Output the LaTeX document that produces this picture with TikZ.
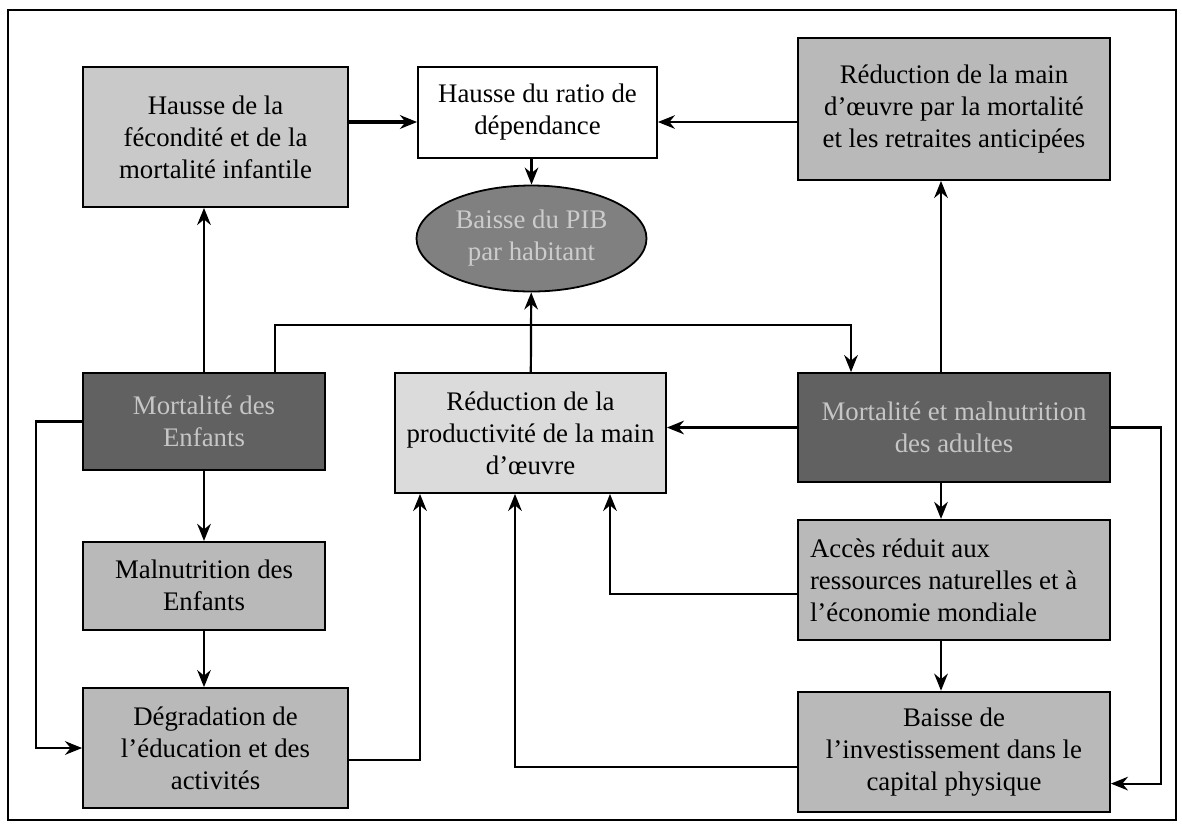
\documentclass[tikz,border=0pt]{standalone}
\usepackage{fontspec}
\setmainfont{Liberation Serif}
\usetikzlibrary{arrows.meta,positioning,shapes.geometric}

\begin{document}
\begin{tikzpicture}[
  x=0.5pt, y=-0.5pt,
  box/.style={draw, line width=0.9pt, align=center, inner sep=2pt, font=\fontsize{13.4}{16}\selectfont},
  wide/.style={box, minimum width=156pt, minimum height=60pt},
  dark/.style={box, fill=black!62, text=gray!45},
  link/.style={->, line width=1.1pt},
  >={Stealth[length=3mm, width=2.4mm]}
]
\useasboundingbox (0,0) rectangle (1182,832);
\draw[line width=1pt] (8,10) rectangle (1176,820);

\node[box, fill=gray!42, minimum width=132.5pt, minimum height=70pt] (fec) at (215.5,137) {Hausse de la\\fécondité et de la\\mortalité infantile};
\node[box, fill=white, minimum width=119.5pt, minimum height=45.5pt] (ratio) at (537.5,112.5) {Hausse du ratio de\\dépendance};
\node[wide, fill=gray!55, minimum height=71pt] (reduc) at (954,109) {Réduction de la main\\d’œuvre par la mortalité\\et les retraites anticipées};
\node[ellipse, draw, line width=0.9pt, fill=black!50, text=gray!40, inner sep=0pt, minimum width=115pt, minimum height=53pt, align=center, font=\fontsize{13.4}{16}\selectfont] (pib) at (531.5,238.5) {Baisse du PIB\\par habitant};

\node[dark, minimum width=121pt, minimum height=48.5pt] (enfm) at (204,421.5) {Mortalité des\\Enfants};
\node[box, fill=gray!28, minimum width=135.5pt, minimum height=60pt] (prod) at (530.5,433) {Réduction de la\\productivité de la main\\d’œuvre};
\node[dark, minimum width=156pt, minimum height=54.5pt] (adult) at (954,427.5) {Mortalité et malnutrition\\des adultes};

\node[box, fill=gray!55, minimum width=121pt, minimum height=44pt, below=35pt of enfm] (maln) {Malnutrition des\\Enfants};
\node[box, fill=gray!55, minimum width=132.5pt, minimum height=60pt] (degr) at (215.5,748) {Dégradation de\\l’éducation et des\\activités};
\node[wide, fill=gray!55, text width=144pt, align=flush left, below=18pt of adult] (acces) {Accès réduit aux\\ressources naturelles et à\\l’économie mondiale};
\node[wide, fill=gray!55, below=25pt of acces] (invest) {Baisse de\\l’investissement dans le\\capital physique};

\coordinate (rin) at ([yshift=-4.75pt]ratio.west);
\coordinate (rout) at ([yshift=-4.75pt]ratio.east);
\draw[link, line width=1.6pt] (fec.east |- rin) -- (rin);
\draw[link, line width=0.6pt] (reduc.west |- rout) -- (rout);
\draw[link] (pib.north |- ratio.south) -- (pib.north);
\draw[link] (prod) -- (pib);
\draw[link] (enfm.north) -- (enfm.north |- fec.south);
\draw[link] ([xshift=-6.5pt]adult.north) -- ([xshift=-6.5pt]adult.north |- reduc.south);
\draw[link] ([xshift=35.5pt]enfm.north) -- ++(0,-47) -| ([xshift=-51.5pt]adult.north);
\draw[link] (enfm) -- (maln);
\draw[link] (maln.south) -- (maln.south |- degr.north);
\draw[link] (enfm.west) -- ++(-46,0) |- (degr.west);
\draw[link] ([yshift=-6pt]degr.east) -| ([xshift=-55.25pt]prod.south);
\draw[link] (adult.west) -- (adult.west -| prod.east);
\draw[link] ([xshift=-6.5pt]adult.south) -- ([xshift=-6.5pt]adult.south |- acces.north);
\draw[link] ([xshift=-6.5pt]acces.south) -- ([xshift=-6.5pt]acces.south |- invest.north);
\draw[link] ([yshift=-7pt]acces.west) -| ([xshift=39.75pt]prod.south);
\draw[link] ([yshift=-7.5pt]invest.west) -| ([xshift=-7.75pt]prod.south);
\draw[link] (adult.east) -- ++(50,0) |- ([yshift=-16pt]invest.east);
\end{tikzpicture}
\end{document}
